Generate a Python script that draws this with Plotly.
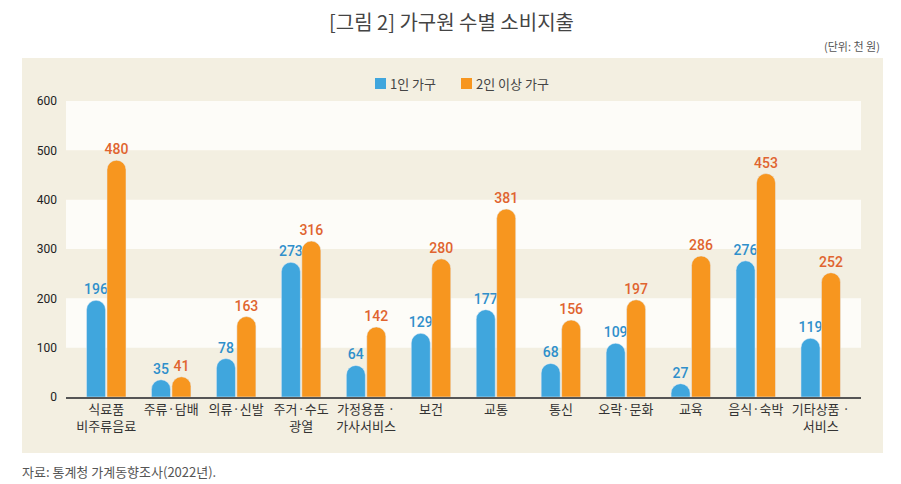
import plotly.graph_objects as go

categories = ["식료품<br>비주류음료", "주류·담배", "의류·신발", "주거·수도<br>광열", "가정용품 ·<br>가사서비스",
              "보건", "교통", "통신", "오락·문화", "교육", "음식·숙박", "기타상품 ·<br>서비스"]
one_person = [196, 35, 78, 273, 64, 129, 177, 68, 109, 27, 276, 119]
two_plus = [480, 41, 163, 316, 142, 280, 381, 156, 197, 286, 453, 252]
series_names = ["1인 가구", "2인 이상 가구"]
y_ticks = [0, 100, 200, 300, 400, 500, 600]

BLUE = "#40a6dd"
ORANGE = "#f7961f"
BLUE_TXT = "#2f8fcb"
ORANGE_TXT = "#e0642f"
PANEL = "#f3efe1"
BAND = "#fdfcf8"
NUM_FONT = "Roboto, sans-serif"
KR_FONT = "Noto Sans CJK KR, sans-serif"

L, R, T, B = 66, 40, 101, 87
W, H = 901, 484
PW, PH = W - L - R, H - T - B


def px(x):
    return (x - L) / PW


def py(y):
    return (H - B - y) / PH


fig = go.Figure()
fig.add_trace(go.Bar(x=categories, y=one_person, name=series_names[0], marker_color=BLUE,
                     text=one_person, textposition="outside", constraintext="none",
                     textfont=dict(color=BLUE_TXT, size=14, family=NUM_FONT, weight=500),
                     cliponaxis=False))
fig.add_trace(go.Bar(x=categories, y=two_plus, name=series_names[1], marker_color=ORANGE,
                     text=two_plus, textposition="outside", constraintext="none",
                     textfont=dict(color=ORANGE_TXT, size=14, family=NUM_FONT, weight=500),
                     cliponaxis=False))

shapes = [dict(type="rect", xref="paper", yref="paper", x0=px(22), x1=px(883),
               y0=py(453), y1=py(58), fillcolor=PANEL, line_width=0, layer="below")]
for lo in (100, 300, 500):
    shapes.append(dict(type="rect", xref="x domain", yref="y", x0=0, x1=1, y0=lo, y1=lo + 100,
                       fillcolor=BAND, line_width=0, layer="below"))
# legend swatches
shapes.append(dict(type="rect", xref="paper", yref="paper", x0=px(375), x1=px(386),
                   y0=py(89), y1=py(78), fillcolor=BLUE, line_width=0))
shapes.append(dict(type="rect", xref="paper", yref="paper", x0=px(461), x1=px(472),
                   y0=py(89), y1=py(78), fillcolor=ORANGE, line_width=0))

fig.update_layout(
    width=W, height=H,
    margin=dict(l=L, r=R, t=T, b=B, autoexpand=False),
    paper_bgcolor="white", plot_bgcolor="rgba(0,0,0,0)",
    barmode="group", bargap=0.37, bargroupgap=0.07, barcornerradius="50%",
    font=dict(family=KR_FONT, color="#333"),
    shapes=shapes,
    showlegend=False,
    annotations=[
        dict(text="[그림 2] 가구원 수별 소비지출", xref="paper", yref="paper",
             x=px(451), y=py(21), xanchor="center", yanchor="middle", showarrow=False,
             font=dict(size=20, color="#444", family=KR_FONT)),
        dict(text="(단위: 천 원)", xref="paper", yref="paper",
             x=px(882), y=py(46), xanchor="right", yanchor="middle", showarrow=False,
             font=dict(size=11, color="#555", family=KR_FONT)),
        dict(text=series_names[0], xref="paper", yref="paper",
             x=px(388), y=py(83), xanchor="left", yanchor="middle", showarrow=False,
             font=dict(size=13, color="#444", family=KR_FONT)),
        dict(text=series_names[1], xref="paper", yref="paper",
             x=px(474), y=py(83), xanchor="left", yanchor="middle", showarrow=False,
             font=dict(size=13, color="#444", family=KR_FONT)),
        dict(text="자료: 통계청 가계동향조사(2022년).", xref="paper", yref="paper",
             x=px(20), y=py(471), xanchor="left", yanchor="middle", showarrow=False,
             font=dict(size=13, color="#555", family=KR_FONT)),
    ],
)
fig.update_xaxes(range=[-0.62, 11.62], showline=True, linecolor="#555", linewidth=1.5,
                 ticks="", showgrid=False, automargin=False,
                 tickfont=dict(size=13, color="#333", family=KR_FONT))
fig.update_yaxes(range=[0, 600], tickvals=y_ticks, showgrid=False, zeroline=False,
                 showline=False, ticks="", ticklabelstandoff=8, automargin=False,
                 tickfont=dict(size=12, color="#222", family=NUM_FONT))

fig.write_html("out.html", config={"displayModeBar": False},
               post_script="document.body.style.margin='0';document.body.style.overflow='hidden';")
